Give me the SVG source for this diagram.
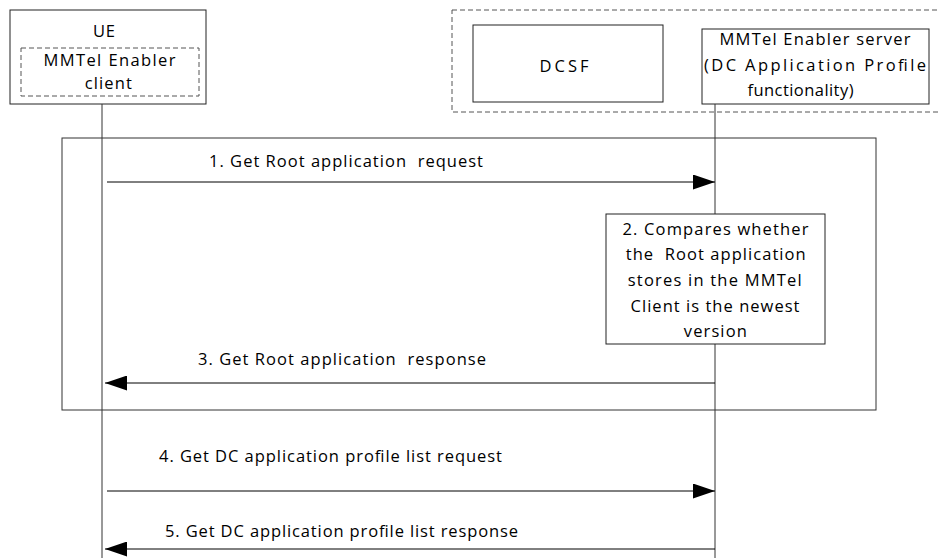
<svg xmlns="http://www.w3.org/2000/svg" width="940" height="558" viewBox="0 0 940 558">
<style>
  text { font-family: "Open Sans", "Liberation Sans", sans-serif; font-size: 16.5px; fill: #000; text-anchor: middle; white-space: pre; }
  .box { fill: #fff; stroke: #222; stroke-width: 1; }
  .dash { fill: none; stroke: #555; stroke-width: 1; stroke-dasharray: 5 3; }
  .frame { fill: none; stroke: #333; stroke-width: 1; }
  .life { stroke: #333; stroke-width: 1; fill: none; }
  .msg { stroke: #000; stroke-width: 1; fill: none; marker-end: url(#ah); }
</style>
<defs>
  <marker id="ah" markerWidth="22" markerHeight="15" refX="22" refY="7.5" orient="auto" markerUnits="userSpaceOnUse">
    <path d="M0,0 L22,7.5 L0,15 z" fill="#000"/>
  </marker>
</defs>
<rect width="940" height="558" fill="#fff"/>

<g id="frame">
  <rect class="frame" x="62" y="138" width="814" height="272"/>
</g>

<g id="ue">
  <rect class="box" x="10" y="10" width="196" height="94"/>
  <text x="104" y="37" textLength="22">UE</text>
  <rect class="dash" x="21" y="48" width="178" height="48"/>
  <text x="109.5" y="66" textLength="132">MMTel Enabler</text>
  <text x="108.3" y="89" textLength="47">client</text>
</g>

<g id="network">
  <rect class="dash" x="452" y="10" width="500" height="102"/>
</g>

<g id="dcsf">
  <rect class="box" x="473" y="25" width="190" height="77"/>
  <text x="564" y="72" textLength="49">DCSF</text>
</g>

<g id="server">
  <rect class="box" x="702" y="29" width="227" height="75"/>
  <text x="815" y="45" textLength="191">MMTel Enabler server</text>
  <text x="815" y="71" textLength="222">(DC Application Profile</text>
  <text x="800.5" y="96" textLength="106">functionality)</text>
</g>

<g id="connectors">
  <line class="life" x1="102" y1="104" x2="102" y2="558"/>
  <line class="life" x1="715" y1="104" x2="715" y2="558"/>
  <line class="msg" x1="107" y1="182" x2="715" y2="182"/>
  <text x="346" y="167" textLength="274" xml:space="preserve">1. Get Root application  request</text>
  <line class="msg" x1="715" y1="383" x2="105" y2="383"/>
  <text x="342" y="365" textLength="288" xml:space="preserve">3. Get Root application  response</text>
  <line class="msg" x1="107" y1="491" x2="715" y2="491"/>
  <text x="330.5" y="462" textLength="343">4. Get DC application profile list request</text>
  <line class="msg" x1="715" y1="549" x2="105" y2="549"/>
  <text x="341.5" y="537" textLength="353">5. Get DC application profile list response</text>
</g>

<g id="step2">
  <rect class="box" x="606" y="214" width="219" height="130"/>
  <text x="715.5" y="235" textLength="186">2. Compares whether</text>
  <text x="715.7" y="260" textLength="180" xml:space="preserve">the  Root application</text>
  <text x="714.7" y="286" textLength="174">stores in the MMTel</text>
  <text x="715" y="312" textLength="169">Client is the newest</text>
  <text x="715.3" y="337" textLength="63">version</text>
</g>
</svg>
